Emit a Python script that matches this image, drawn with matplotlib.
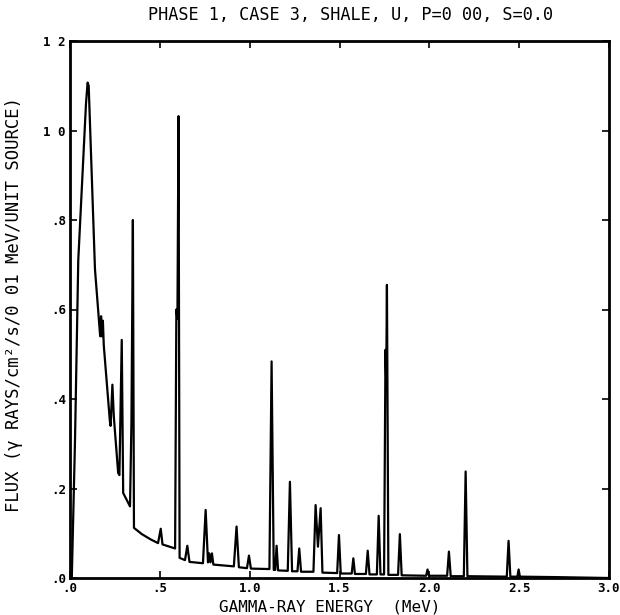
import matplotlib
matplotlib.use("Agg")
import matplotlib.pyplot as plt

energy = [
    0.010, 0.028, 0.046, 0.089, 0.098, 0.104, 0.139, 0.168, 0.173, 0.178,
    0.183, 0.188, 0.222, 0.226, 0.236, 0.244, 0.268, 0.275, 0.288, 0.296,
    0.334, 0.342, 0.350, 0.356, 0.400, 0.450, 0.490, 0.505, 0.515, 0.585,
    0.592, 0.598, 0.604, 0.610, 0.640, 0.653, 0.665, 0.740, 0.755, 0.768,
    0.775, 0.782, 0.790, 0.798, 0.912, 0.927, 0.940, 0.985, 0.996, 1.007,
    1.110, 1.122, 1.134, 1.142, 1.150, 1.158, 1.212, 1.224, 1.236, 1.266,
    1.276, 1.286, 1.355, 1.367, 1.380, 1.395, 1.405, 1.487, 1.497, 1.507,
    1.568, 1.577, 1.586, 1.647, 1.657, 1.667, 1.708, 1.718, 1.728, 1.748,
    1.756, 1.760, 1.764, 1.772, 1.826, 1.836, 1.846, 1.982, 1.990, 1.998,
    2.099, 2.109, 2.119, 2.192, 2.202, 2.212, 2.431, 2.441, 2.451, 2.490,
    2.497, 2.504, 2.700, 3.000,
]
flux = [
    0.000, 0.310, 0.710, 1.060, 1.107, 1.100, 0.690, 0.540, 0.585, 0.540,
    0.575, 0.520, 0.350, 0.340, 0.432, 0.360, 0.235, 0.230, 0.532, 0.190,
    0.160, 0.350, 0.800, 0.112, 0.098, 0.086, 0.078, 0.110, 0.075, 0.066,
    0.600, 0.580, 1.032, 0.045, 0.040, 0.072, 0.036, 0.033, 0.152, 0.035,
    0.055, 0.035, 0.055, 0.030, 0.026, 0.115, 0.024, 0.022, 0.050, 0.021,
    0.020, 0.484, 0.018, 0.018, 0.072, 0.017, 0.016, 0.215, 0.015, 0.015,
    0.066, 0.014, 0.014, 0.163, 0.070, 0.156, 0.012, 0.011, 0.096, 0.010,
    0.010, 0.044, 0.009, 0.009, 0.061, 0.008, 0.008, 0.139, 0.008, 0.008,
    0.510, 0.440, 0.655, 0.007, 0.007, 0.098, 0.006, 0.005, 0.019, 0.005,
    0.005, 0.059, 0.004, 0.004, 0.238, 0.004, 0.003, 0.083, 0.003, 0.003,
    0.019, 0.003, 0.002, 0.000,
]

x_ticks = [0.0, 0.5, 1.0, 1.5, 2.0, 2.5, 3.0]
x_labels = [".0", ".5", "1.0", "1.5", "2.0", "2.5", "3.0"]
y_ticks = [0.0, 0.2, 0.4, 0.6, 0.8, 1.0, 1.2]
y_labels = [".0", ".2", ".4", ".6", ".8", "1 0", "1 2"]

title = "PHASE 1, CASE 3, SHALE, U, P=0 00, S=0.0"
xlabel = "GAMMA-RAY ENERGY  (MeV)"
ylabel = "FLUX (γ RAYS/cm²/s/0 01 MeV/UNIT SOURCE)"

plt.rcParams["font.family"] = ["DejaVu Sans Mono", "DejaVu Sans"]

fig = plt.figure(figsize=(6.2, 6.15), dpi=100)
ax = fig.add_axes([70 / 620, 37 / 615, 539 / 620, 537 / 615])

ax.plot(energy, flux, color="black", linewidth=1.6)

ax.set_xlim(0, 3.0)
ax.set_ylim(0, 1.2)
ax.set_xticks(x_ticks)
ax.set_xticklabels(x_labels, fontsize=9, fontweight="bold")
ax.set_yticks(y_ticks)
ax.set_yticklabels(y_labels, fontsize=9, fontweight="bold")
ax.tick_params(direction="in", length=5, width=1.2, top=True, right=True, pad=3)

for sp in ax.spines.values():
    sp.set_linewidth(2)

# Beschriftungen frei gesetzt, wie beim alten Plotter
fig.text(350 / 620, 1 - 15 / 615, title, ha="center", va="center", fontsize=12.2)
fig.text(330 / 620, 1 - 607 / 615, xlabel, ha="center", va="center", fontsize=11.5)
fig.text(14 / 620, 1 - 305 / 615, ylabel, ha="center", va="center",
         rotation=90, fontsize=12.4)

fig.savefig("out.png", dpi=100)
